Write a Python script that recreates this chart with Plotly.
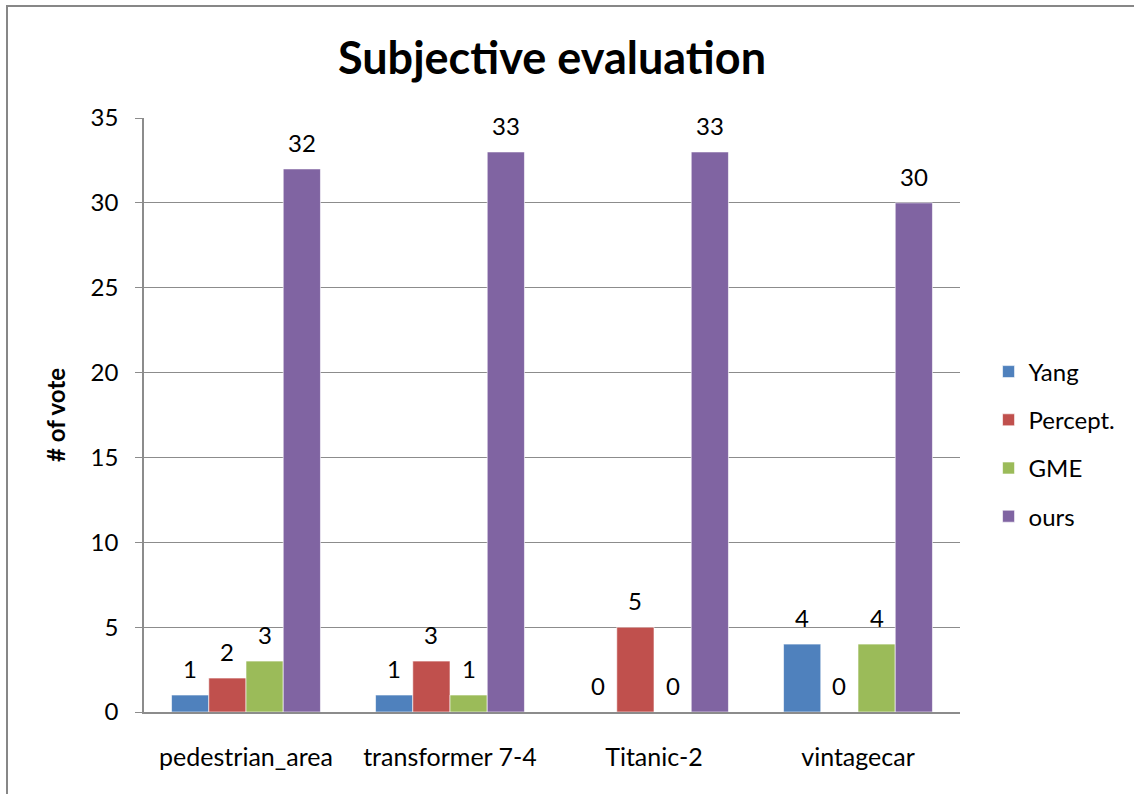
import plotly.graph_objects as go

# Votes per clip for each method
clips = ["pedestrian_area", "transformer 7-4", "Titanic-2", "vintagecar"]
yang = [1, 1, 0, 4]
percept = [2, 3, 5, 0]
gme = [3, 1, 0, 4]
ours = [32, 33, 33, 30]

series = [
    ("Yang", yang, "#4F81BD"),
    ("Percept.", percept, "#C0504D"),
    ("GME", gme, "#9BBB59"),
    ("ours", ours, "#8064A2"),
]

FONT = "Lato, 'Open Sans', sans-serif"
GRID = "#8c8c8c"
BARGAP = 0.27

fig = go.Figure()
for k, (name, vals, color) in enumerate(series):
    fig.add_trace(go.Bar(
        name=name, x=clips, y=vals,
        marker=dict(color=color, line=dict(color="rgba(255,255,255,0.6)", width=1)),
        legendgroup=name,
    ))

# Value labels above each bar
w = (1 - BARGAP) / len(series)
annotations = []
for k, (name, vals, color) in enumerate(series):
    for i, v in enumerate(vals):
        annotations.append(dict(
            x=i + (k - (len(series) - 1) / 2) * w, y=v, xref="x", yref="y",
            text=str(v), showarrow=False, yanchor="bottom", yshift=10,
            font=dict(size=24, color="#000000", family=FONT),
        ))

fig.update_layout(
    width=1134, height=794,
    margin=dict(l=144, r=174, t=118, b=82),
    paper_bgcolor="white", plot_bgcolor="white",
    barmode="group", bargap=BARGAP, bargroupgap=0,
    font=dict(family=FONT, size=24, color="#000000"),
    title=dict(text="<b>Subjective evaluation</b>", x=0.5, xref="paper", xanchor="center",
               y=1 - 58 / 794, yanchor="middle", font=dict(size=45, family=FONT)),
    showlegend=True,
    legend=dict(x=1.035, xanchor="left", y=(712 - 444) / 594, yanchor="middle",
                font=dict(size=24, family=FONT), tracegroupgap=14,
                itemwidth=30, bgcolor="rgba(0,0,0,0)"),
    annotations=annotations,
    shapes=[dict(type="rect", xref="paper", yref="paper",
                 x0=(7 - 144) / 816, x1=1.3, y0=-0.3, y1=(712 - 6) / 594,
                 line=dict(color="#878787", width=2), layer="below")],
)

fig.update_yaxes(
    range=[0, 35], dtick=5, showgrid=True, gridcolor=GRID, gridwidth=1,
    showline=True, linecolor=GRID, linewidth=1.5,
    ticks="outside", ticklen=7, tickcolor=GRID, ticklabelstandoff=12,
    tickfont=dict(size=24), zeroline=False,
    title=dict(text="<b># of vote</b>", font=dict(size=24), standoff=18),
)
fig.update_xaxes(
    showline=True, linecolor=GRID, linewidth=2, ticks="",
    ticklabelstandoff=22,
    tickfont=dict(size=25), showgrid=False,
)

fig.write_html("out.html")
